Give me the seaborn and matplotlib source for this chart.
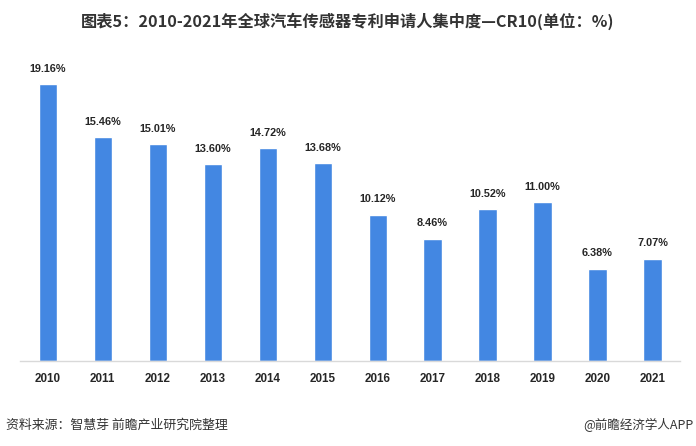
import matplotlib
matplotlib.use("Agg")
from matplotlib import pyplot as plt
import seaborn as sns
import pandas as pd

years = ['2010', '2011', '2012', '2013', '2014', '2015',
         '2016', '2017', '2018', '2019', '2020', '2021']
cr10 = [19.16, 15.46, 15.01, 13.60, 14.72, 13.68,
        10.12, 8.46, 10.52, 11.00, 6.38, 7.07]

title = '图表5：2010-2021年全球汽车传感器专利申请人集中度—CR10(单位：%)'
source = '资料来源：智慧芽 前瞻产业研究院整理'
credit = '@前瞻经济学人APP'

sns.set_style('white')
plt.rcParams['font.family'] = ['Noto Sans CJK SC', 'DejaVu Sans']

df = pd.DataFrame({'year': years, 'cr10': cr10})

fig = plt.figure(figsize=(6.96, 4.46), dpi=100)
ax = fig.add_axes([0.029, 0.191, 0.948, 0.6726])
sns.barplot(data=df, x='year', y='cr10', color='#4387e2', saturation=1,
            width=0.33, ax=ax)

ax.set_ylim(0, 20.75)
ax.set_xlim(-0.5, 11.5)
ax.set_xlabel('')
ax.set_ylabel('')
ax.set_yticks([])
for s in ['top', 'right', 'left']:
    ax.spines[s].set_visible(False)
ax.spines['bottom'].set_color('#d9d9d9')
ax.spines['bottom'].set_linewidth(1)
ax.tick_params(axis='x', length=0, pad=8.5)
for lab in ax.get_xticklabels():
    lab.set_fontweight('bold')
    lab.set_fontsize(8.4)
    lab.set_family(['Liberation Sans', 'DejaVu Sans'])
    lab.set_color('#262626')

for i, v in enumerate(cr10):
    ax.text(i, v + 0.7, f'{v:.2f}%', ha='center', va='bottom',
            fontsize=7.8, fontweight='bold', color='#262626',
            family=['Liberation Sans', 'DejaVu Sans'])

fig.text(0.5, 0.953, title, ha='center', va='center', fontsize=11.7,
         fontweight='bold', color='#333333')
fig.text(0.009, 0.047, source, ha='left', va='center', fontsize=9.3,
         color='#333333')
fig.text(0.996, 0.047, credit, ha='right', va='center', fontsize=9,
         color='#333333')

fig.savefig('out.png', dpi=100)
